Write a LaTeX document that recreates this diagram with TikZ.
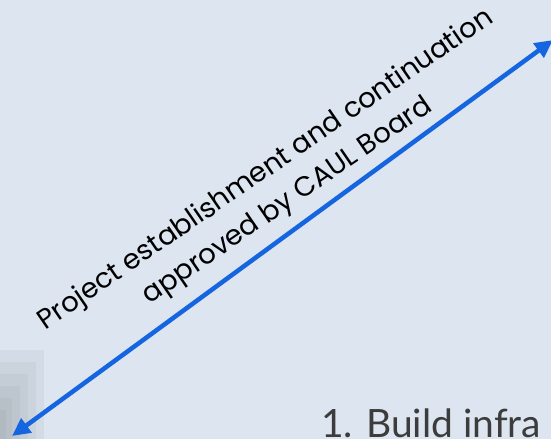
\documentclass[tikz,border=0pt]{standalone}
\usepackage{fontspec}
\newfontfamily\poppins{Poppins}
\newfontfamily\lato{Lato}
\usetikzlibrary{arrows.meta}
\definecolor{bgc}{HTML}{DCE5F0}
\definecolor{arrowblue}{HTML}{1565E0}
\definecolor{textgrey}{HTML}{3C3C3C}
\definecolor{shadowgrey}{HTML}{7E8488}
\tikzset{
  linkarrow/.style={arrowblue, line width=4.5pt,
    {Triangle[length=18pt,width=17pt]}-{Triangle[length=18pt,width=17pt]}},
  rotlabel/.style={font=\poppins\fontsize{27.6}{38}\selectfont, align=center,
    rotate=34.5, inner sep=0pt, text=black},
  steplabel/.style={font=\lato\fontsize{39}{44}\selectfont, text=textgrey,
    anchor=base west, inner sep=0pt},
  shadowblock/.style={fill=shadowgrey, fill opacity=0.09, draw=none}
}
\begin{document}
\begin{tikzpicture}[x=1pt,y=-1pt]
  \fill[bgc] (0,0) rectangle (551,439);
  \useasboundingbox (0,0) rectangle (551,439);
  \clip (0,0) rectangle (551,439);
  % blurred shadow at the lower left
  \fill[shadowblock] (0,439) rectangle (44,350);
  \fill[shadowblock] (0,439) rectangle (36,362);
  \fill[shadowblock] (0,439) rectangle (28,374);
  \fill[shadowblock] (0,439) rectangle (20,386);
  \fill[shadowblock] (0,439) rectangle (12,398);
  \fill[shadowblock] (0,439) rectangle (6,410);
  % arrow
  \coordinate (lowend) at (12,436);
  \coordinate (highend) at (553,40);
  \draw[linkarrow] (lowend) -- (highend);
  % rotated label
  \node[rotlabel] (approval) at (277,186) {Project establishment and continuation\\approved by CAUL Board};
  % step text
  \node[steplabel] (step1) at (321,437) {1. Build infra};
\end{tikzpicture}
\end{document}
